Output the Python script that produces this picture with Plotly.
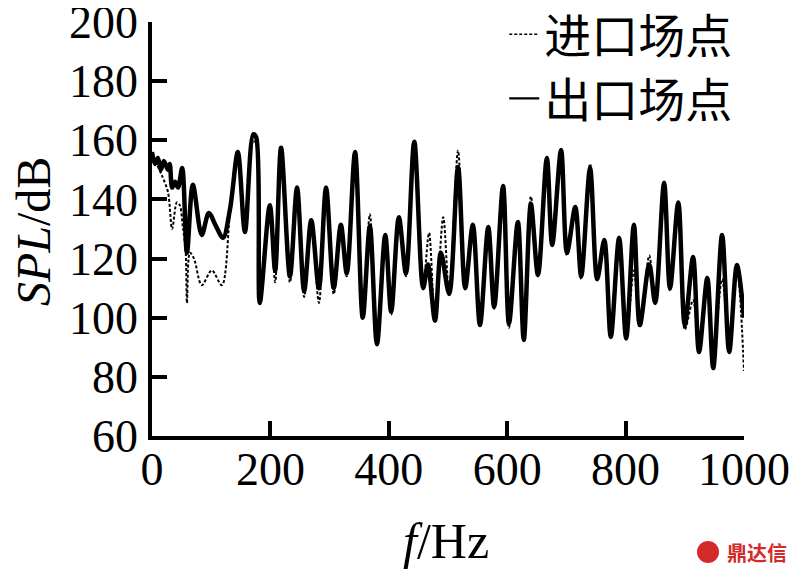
import plotly.graph_objects as go

# Outlet field point (solid)
out_f = [0, 5, 10, 15, 20, 27, 30, 34, 39, 44, 51, 59, 69, 84, 96, 108, 120, 132, 145, 157,
         171, 176, 182, 199, 208, 218, 233, 245, 257, 269, 282, 294, 307, 319, 329, 343, 356,
         368, 380, 394, 404, 417, 429, 443, 458, 466, 478, 488, 502, 517, 529, 542, 554, 568,
         578, 593, 603, 618, 628, 640, 652, 667, 676, 691, 701, 715, 725, 740, 752, 764, 775,
         789, 801, 814, 824, 840, 850, 865, 875, 889, 900, 914, 924, 938, 948, 963, 975, 988, 1000]
out_spl = [156, 152, 154, 150, 153, 150, 152, 144, 146, 144, 150.6, 122, 145, 128, 135.4, 131, 127, 137, 156, 129,
           162, 161, 105, 138, 116, 157.5, 114, 144, 109, 133, 110, 144, 110, 131.4, 115, 156, 100,
           131, 91, 128, 102, 134, 115, 159.5, 110, 118, 99, 122, 108, 151, 110, 131.4, 97.5, 130.7,
           103.6, 144.5, 98, 132.4, 92.5, 138.5, 114.4, 154, 124.6, 156.7, 122, 137.4, 114, 150.6, 113, 126.3, 93.5,
           127, 93, 131.4, 97.5, 118, 105, 145.6, 110, 139, 97.5, 120.5, 88.4, 113.4, 83, 128, 88.4, 117.8, 100]

# Inlet field point (dotted)
in_f = [0, 8, 17, 27, 34, 42, 47, 52, 57, 59, 64, 71, 84, 101, 118, 132, 145, 157,
        171, 176, 182, 199, 208, 218, 233, 245, 257, 269, 282, 294, 307, 319, 329, 343, 356,
        368, 380, 394, 404, 417, 429, 443, 458, 468, 478, 492, 502, 517, 529, 542, 554, 568,
        578, 593, 603, 618, 628, 640, 652, 667, 676, 691, 701, 715, 725, 740, 752, 764, 775,
        789, 801, 814, 824, 840, 850, 865, 875, 889, 900, 914, 924, 938, 948, 963, 975, 988, 1000]
in_spl = [156, 152, 148, 142.5, 130, 139, 138, 131, 122, 105, 122, 120, 111, 116, 111, 136, 155, 129,
          160, 159, 105, 137, 112, 156, 112, 143, 107, 132, 105, 143, 108, 130, 114, 155, 100,
          135, 92, 128, 101, 133, 114, 158, 111, 128.7, 99, 134, 108, 156.5, 111, 131, 97, 131,
          103, 144, 96.5, 132, 93, 141, 115, 153, 124, 156, 121, 137, 113, 152, 113, 126, 94,
          127, 93, 116, 97, 121, 105, 145, 109, 138, 96, 106, 92, 114, 88, 113, 92, 117, 82]

x_ticks = [0, 200, 400, 600, 800, 1000]
y_ticks = [60, 80, 100, 120, 140, 160, 180, 200]
names = ["进口场点", "出口场点"]

SERIF = "Liberation Serif, Times New Roman, serif"
CJK = "Liberation Serif, Noto Sans CJK SC, serif"

fig = go.Figure()
fig.add_trace(go.Scatter(x=in_f, y=in_spl, mode="lines", name=names[0], showlegend=False,
                         line=dict(color="black", width=2, dash="3px,2px", shape="spline", smoothing=0.9)))
fig.add_trace(go.Scatter(x=out_f, y=out_spl, mode="lines", name=names[1], showlegend=False,
                         line=dict(color="black", width=4.5, shape="spline", smoothing=0.9)))
# legend entries (thin sample lines as in the reference)
fig.add_trace(go.Scatter(x=[None], y=[None], mode="lines", name=names[0],
                         line=dict(color="black", width=1.5, dash="3px,2px")))
fig.add_trace(go.Scatter(x=[None], y=[None], mode="lines", name=names[1],
                         line=dict(color="black", width=2.2)))

axis_common = dict(showgrid=False, zeroline=False, showline=True, linecolor="black", linewidth=3.5,
                   ticks="inside", ticklen=15, tickwidth=3.5, tickcolor="black", automargin=False,
                   ticklabeloverflow="allow",
                   tickfont=dict(family=SERIF, size=46, color="black"))

fig.update_xaxes(range=[0, 1000], tickvals=x_ticks, ticktext=[str(v) for v in x_ticks],
                 ticklabelstandoff=-10, **axis_common)
fig.update_yaxes(range=[60, 200], tickvals=y_ticks, ticktext=[str(v) for v in y_ticks],
                 ticklabelstandoff=1, **axis_common)

# page has an 8px body margin: figure pixel = page pixel - 8
fig.update_layout(
    width=790, height=566,
    margin=dict(l=144, r=54, t=14, b=138, autoexpand=False),
    paper_bgcolor="white", plot_bgcolor="white",
    showlegend=True,
    legend=dict(x=0.595, y=1.06, xanchor="left", yanchor="top",
                font=dict(family=CJK, size=47, color="black"),
                bgcolor="rgba(0,0,0,0)", borderwidth=0, tracegroupgap=0),
    annotations=[
        dict(text="<i>f</i>/Hz", xref="paper", yref="paper", x=(446 - 152) / 592, y=(436 - 541) / 414,
             showarrow=False, xanchor="center", yanchor="middle",
             font=dict(family=SERIF, size=50, color="black")),
        dict(text="<i>SPL</i>/dB", xref="paper", yref="paper", x=(33 - 152) / 592, y=(436 - 232) / 414,
             showarrow=False, xanchor="center", yanchor="middle", textangle=-90,
             font=dict(family=SERIF, size=48, color="black")),
        dict(text="<b>鼎达信</b>", xref="paper", yref="paper", x=(757 - 152) / 592, y=(436 - 552) / 414,
             showarrow=False, xanchor="center", yanchor="middle",
             font=dict(family="Noto Sans CJK SC", size=20, color="#d42a2a")),
    ],
    shapes=[
        dict(type="circle", xref="paper", yref="paper",
             x0=(697 - 152) / 592, x1=(719 - 152) / 592,
             y0=(436 - 563) / 414, y1=(436 - 541) / 414,
             fillcolor="#d42a2a", line=dict(width=0)),
    ],
)

fig.write_html("out.html")
